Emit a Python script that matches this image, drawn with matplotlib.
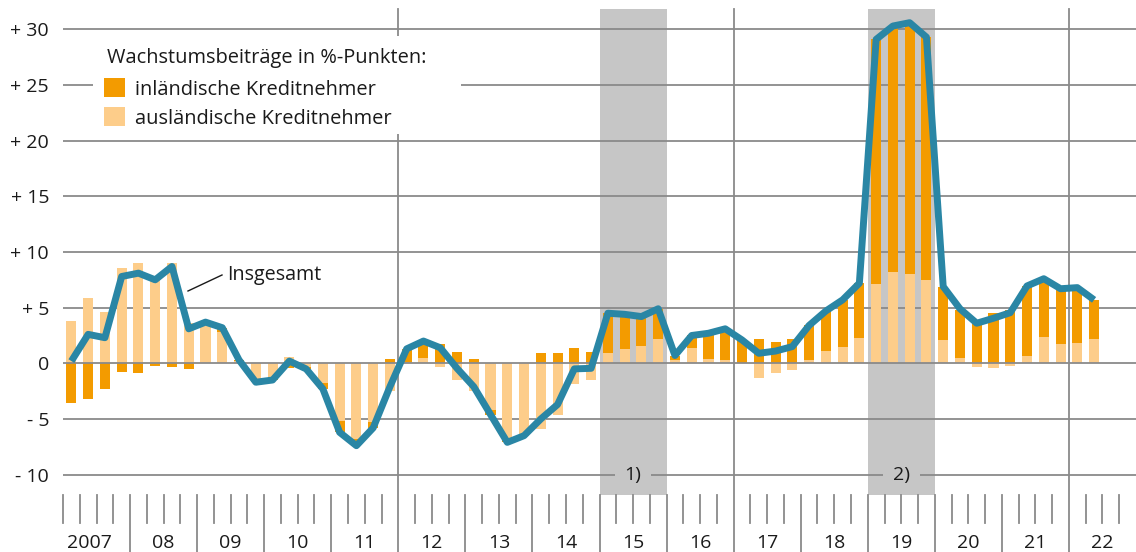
import matplotlib
matplotlib.use("Agg")
import matplotlib.pyplot as plt
import matplotlib.transforms as mtransforms
from matplotlib.patches import Rectangle
import numpy as np

plt.rcParams["font.family"] = ["Open Sans", "DejaVu Sans"]

# quarterly data 2007 Q1 .. 2022 Q2, growth contributions in %-points
years = ["2007", "08", "09", "10", "11", "12", "13", "14", "15",
         "16", "17", "18", "19", "20", "21", "22"]

auslaendisch = [3.8, 5.85, 4.65, 8.6, 9.0, 7.7, 9.0, 3.6,
                3.7, 2.8, 0.2, -1.5, -1.2, 0.6, -0.3, -1.8,
                -5.2, -6.8, -5.3, -2.5, 0.1, 0.5, -0.3, -1.5,
                -2.5, -4.2, -6.7, -6.5, -5.9, -4.6, -1.9, -1.5,
                0.9, 1.3, 1.6, 2.2, 0.3, 1.4, 0.4, 0.3,
                0.0, -1.3, -0.85, -0.6, 0.3, 1.1, 1.5, 2.3,
                7.1, 8.2, 8.0, 7.5, 2.1, 0.5, -0.3, -0.45,
                -0.2, 0.65, 2.4, 1.7, 1.8, 2.2]

inlaendisch = [-3.6, -3.25, -2.3, -0.8, -0.9, -0.2, -0.3, -0.5,
               0.0, 0.4, 0.1, -0.2, -0.3, -0.4, -0.2, -0.5,
               -1.0, -0.6, -0.5, 0.4, 1.2, 1.5, 1.7, 1.05,
               0.35, -0.4, -0.4, 0.0, 0.9, 0.9, 1.35, 1.05,
               3.6, 3.1, 2.6, 2.7, 0.4, 1.1, 2.3, 2.8,
               2.1, 2.15, 1.95, 2.15, 3.1, 3.6, 4.2, 4.9,
               22.0, 22.1, 22.6, 21.8, 4.8, 4.3, 3.9, 4.5,
               4.75, 6.3, 5.2, 5.0, 5.0, 3.5]

insgesamt = [0.2, 2.6, 2.3, 7.8, 8.1, 7.5, 8.7, 3.1,
             3.7, 3.2, 0.3, -1.7, -1.5, 0.2, -0.5, -2.3,
             -6.2, -7.4, -5.8, -2.1, 1.3, 2.0, 1.4, -0.45,
             -2.1, -4.6, -7.1, -6.5, -5.0, -3.7, -0.5, -0.45,
             4.5, 4.4, 4.2, 4.9, 0.7, 2.5, 2.7, 3.1,
             2.1, 0.9, 1.1, 1.5, 3.4, 4.7, 5.7, 7.2,
             29.1, 30.3, 30.6, 29.3, 6.9, 4.9, 3.6, 4.05,
             4.55, 6.95, 7.6, 6.7, 6.8, 5.7]

shaded_years = [("15", "1)"), ("19", "2)")]
y_ticks = [-10, -5, 0, 5, 10, 15, 20, 25, 30]

DARK = "#f39b00"
LIGHT = "#fdcd8a"
LINE = "#2a86a5"
GRID = "#8a8a8a"
SHADE = "#c6c6c6"
TXT = "#1a1a1a"

W, H = 1136, 552
fig = plt.figure(figsize=(W / 100, H / 100), dpi=100)
ax_l, ax_r, ax_t, ax_b = 63, 1136, 9, 495
ax = fig.add_axes([ax_l / W, 1 - ax_b / H, (ax_r - ax_l) / W, (ax_b - ax_t) / H])


def fx(px):
    return (px - ax_l) / (ax_r - ax_l)


def fy(py):
    return (ax_b - py) / (ax_b - ax_t)


n_q = len(years) * 4
x = np.arange(len(insgesamt)) + 0.5
light = np.array(auslaendisch)
dark = np.array(inlaendisch)
dark_bottom = np.where(np.sign(dark) == np.sign(light), light, 0.0)

ax.set_xlim(0, n_q)
ax.set_ylim(-11.83, 31.83)
for s in ax.spines.values():
    s.set_visible(False)

# shaded periods
for yr, lab in shaded_years:
    k = years.index(yr) * 4
    ax.axvspan(k, k + 4, color=SHADE, lw=0, zorder=0)

# horizontal grid, zero line on top of the bars
for v in y_ticks:
    ax.axhline(v, color=GRID, lw=1.3, zorder=2.5 if v == 0 else 1)

ax.bar(x, light, width=0.6, color=LIGHT, lw=0, zorder=2)
ax.bar(x, dark, width=0.6, bottom=dark_bottom, color=DARK, lw=0, zorder=2)
ax.plot(x, insgesamt, color=LINE, lw=5.0, solid_joinstyle="round",
        solid_capstyle="butt", zorder=3)

for yr, lab in shaded_years:
    k = years.index(yr) * 4
    ax.text(k + 2, -10, lab, ha="center", va="center", fontsize=14,
            color=TXT, zorder=4,
            bbox=dict(boxstyle="square,pad=0.5", fc=SHADE, ec="none"))

# x axis ticks and vertical grid
trans = mtransforms.blended_transform_factory(ax.transData, ax.transAxes)
for q in range(n_q):
    if q % 4 == 0 and q > 0:
        top = 1 if q % 20 == 0 else 0
        ax.plot([q, q], [top, fy(H)], transform=trans, color=GRID, lw=1.3,
                clip_on=False, zorder=1)
    else:
        ax.plot([q, q], [0, fy(523)], transform=trans, color=GRID, lw=1.3,
                clip_on=False, zorder=1)
for i, yr in enumerate(years):
    xc = i * 4 + 2 - (0.4 if i == 0 else 0)
    ax.text(xc, fy(548), yr, transform=trans, ha="center",
            va="baseline", fontsize=14, color=TXT)

ax.set_xticks([])
ax.set_yticks(y_ticks)
ax.set_yticklabels([("+ %d" % v) if v > 0 else ("- %d" % -v if v < 0 else "0")
                    for v in y_ticks])
ax.tick_params(axis="y", length=0, pad=10, labelsize=14, labelcolor=TXT)

# legend
ax.add_patch(Rectangle((fx(93), fy(134)), fx(461) - fx(93), fy(36) - fy(134),
                       transform=ax.transAxes, fc="white", ec="none", zorder=5))
ax.text(fx(107), fy(63), "Wachstumsbeiträge in %-Punkten:", transform=ax.transAxes,
        fontsize=14.4, va="baseline", color=TXT, zorder=6)
for c, lab, top, base in [(DARK, "inländische Kreditnehmer", 78, 95),
                          (LIGHT, "ausländische Kreditnehmer", 107, 124)]:
    ax.add_patch(Rectangle((fx(104), fy(top + 19)), fx(125) - fx(104),
                           fy(top) - fy(top + 19), transform=ax.transAxes,
                           fc=c, ec="none", zorder=6))
    ax.text(fx(135), fy(base), lab, transform=ax.transAxes, fontsize=14.4,
            va="baseline", color=TXT, zorder=6)

# label for the line
ax.plot([fx(188), fx(222)], [fy(291), fy(275)], transform=ax.transAxes,
        color=TXT, lw=1.0, zorder=6)
ax.text(fx(227), fy(280), "Insgesamt", transform=ax.transAxes, fontsize=14.2,
        va="baseline", color=TXT, zorder=6)

fig.savefig("out.png", dpi=100, facecolor="white")
